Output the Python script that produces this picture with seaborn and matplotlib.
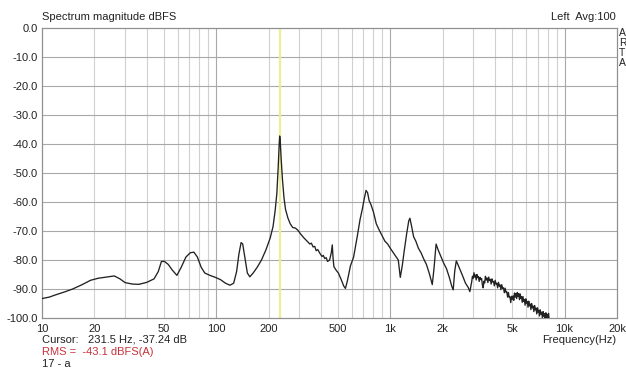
import matplotlib
matplotlib.use("Agg")
import matplotlib.pyplot as plt
import matplotlib.ticker as mticker
import pandas as pd
import seaborn as sns

# Averaged spectrum as (frequency Hz, magnitude dBFS) pairs, split by band
bass_band = [
    (10, -93.3), (11, -92.8), (12, -92.0), (13.5, -91.0), (15, -90.0),
    (17, -88.5), (19, -87.0), (21, -86.3), (24, -85.8), (26, -85.5),
    (28, -86.5), (30, -87.8), (33, -88.3), (36, -88.4), (40, -87.7),
    (44, -86.5), (46.5, -84.0), (48.5, -80.5), (50.5, -80.5), (53, -81.5),
    (56, -83.5), (59.5, -85.3), (63, -82.5), (67, -79.0), (71, -77.5),
    (74.5, -77.3), (78, -79.0), (82, -82.5), (86, -84.5), (92, -85.3),
    (99, -86.0), (106, -86.8), (113, -88.0), (120, -88.7), (126, -88.0),
    (131, -84.0), (135, -78.0), (139, -74.0), (142, -74.5), (146, -79.0),
    (151, -84.5), (156, -85.8), (163, -84.5), (172, -82.5), (182, -80.0),
    (193, -76.5), (204, -72.5), (212, -68.5), (218, -63.0), (223, -57.0),
    (227, -48.0), (230, -40.0), (231.5, -37.24), (233, -38.5), (236, -45.0),
    (240, -52.0), (245, -58.5), (250, -62.5), (258, -65.5), (266, -67.5),
    (275, -68.8), (285, -69.0), (295, -69.8),
]
mid_band = [
    (305, -71.0), (318, -72.3), (330, -73.3), (345, -74.5), (352, -74.2),
    (360, -75.5), (368, -75.3), (375, -76.8), (383, -76.4), (392, -77.5),
    (405, -78.8), (412, -78.4), (420, -79.5), (428, -79.2), (436, -80.5),
    (448, -80.0), (458, -77.5), (464, -74.8), (469, -79.5), (474, -82.3),
    (488, -83.5), (503, -84.5), (520, -86.5), (540, -89.0), (552, -89.8),
    (565, -87.5), (590, -82.0), (615, -79.0), (645, -72.0), (670, -66.0),
    (690, -62.5), (710, -58.5), (725, -56.0), (740, -56.8), (755, -59.5),
    (775, -61.0), (800, -63.5), (830, -67.5), (860, -69.5), (895, -71.5),
    (930, -73.5), (965, -74.5), (1000, -76.0), (1040, -77.5), (1080, -79.0),
    (1110, -80.0), (1140, -86.0), (1170, -82.0), (1200, -77.0), (1240, -71.0),
    (1275, -66.5), (1295, -65.6), (1320, -68.0), (1360, -72.0), (1400, -73.5),
    (1450, -76.0), (1500, -77.5), (1550, -79.5), (1610, -81.5), (1680, -85.0),
    (1740, -88.5), (1780, -83.0), (1830, -74.5), (1880, -76.5), (1940, -78.5),
    (2020, -81.0), (2100, -83.0), (2180, -86.0), (2250, -89.0), (2295, -90.3),
    (2340, -84.0), (2390, -80.3), (2440, -81.5), (2520, -83.5), (2600, -85.5),
    (2700, -88.0), (2800, -89.5), (2860, -90.9),
]
treble_band = [
    (2930, -87.5), (2960, -85.6), (2990, -86.3), (3020, -84.4), (3050, -85.9),
    (3080, -85.2), (3110, -86.9), (3140, -85.0), (3170, -86.1), (3200, -85.7),
    (3235, -87.4), (3270, -86.0), (3305, -86.8), (3340, -86.4), (3375, -88.6),
    (3410, -89.6), (3445, -87.3), (3480, -87.9), (3515, -85.6), (3550, -86.9),
    (3590, -86.2), (3630, -87.8), (3670, -85.9), (3710, -87.1), (3750, -86.7),
    (3790, -88.3), (3830, -86.5), (3870, -87.6), (3910, -87.4), (3950, -88.9),
    (3995, -87.0), (4040, -88.3), (4085, -88.0), (4130, -89.6), (4175, -87.7),
    (4220, -89.0), (4265, -88.6), (4310, -90.2), (4360, -88.5), (4410, -89.8),
    (4460, -89.6), (4510, -91.3), (4560, -89.7), (4610, -91.1), (4660, -91.0),
    (4710, -92.8), (4760, -91.2), (4810, -92.9), (4860, -92.7), (4910, -94.7),
    (4960, -92.5), (5010, -93.6), (5060, -92.4), (5110, -93.9), (5160, -91.4),
    (5210, -92.8), (5260, -91.5), (5310, -93.3), (5360, -91.2), (5410, -92.6),
    (5460, -91.6), (5510, -93.7), (5560, -91.7), (5610, -93.2), (5660, -92.6),
    (5715, -94.6), (5770, -92.6), (5825, -94.3), (5880, -93.6), (5935, -95.6),
    (5990, -93.4), (6050, -94.9), (6110, -94.3), (6170, -96.3), (6230, -94.2),
    (6290, -95.8), (6350, -95.2), (6410, -97.1), (6470, -95.0), (6535, -96.5),
    (6600, -95.9), (6665, -97.8), (6730, -95.7), (6795, -97.2), (6860, -96.6),
    (6925, -98.6), (6990, -96.5), (7055, -98.0), (7120, -97.3), (7185, -99.3),
    (7250, -97.2), (7320, -98.7), (7390, -98.0), (7460, -99.9), (7530, -97.8),
    (7600, -99.4), (7670, -98.5), (7740, -100.4), (7810, -98.2), (7880, -99.8),
    (7950, -98.8), (8020, -100.6), (8090, -98.4), (8160, -100.6),
]

x_ticks = [10, 20, 50, 100, 200, 500, 1000, 2000, 5000, 10000, 20000]
x_tick_labels = ["10", "20", "50", "100", "200", "500", "1k", "2k", "5k",
                 "10k", "20k"]
y_ticks = [0, -10, -20, -30, -40, -50, -60, -70, -80, -90, -100]
cursor_hz = 231.5
cursor_db = -37.24
rms_dbfs = -43.1

points = bass_band + mid_band + treble_band
spectrum = pd.DataFrame(points, columns=["Frequency", "Level"])

sns.set_style("white")
plt.rcParams["font.family"] = ["Liberation Sans", "DejaVu Sans"]

fig = plt.figure(figsize=(6.26, 3.72), dpi=100)
ax = fig.add_axes([0.0671, 0.1452, 0.9185, 0.7795])

ax.set_xscale("log")
ax.set_xlim(10, 20000)
ax.set_ylim(-100, 0)

# grid: light verticals on every 1..9 step, darker on decades, dB every 10
for dec in [10, 100, 1000, 10000]:
    for m in range(1, 10):
        f = dec * m
        if f <= 10 or f >= 20000:
            continue
        col = "#a8a8a8" if m == 1 else "#d0d0d0"
        ax.axvline(f, color=col, lw=0.8, zorder=1)
for y in y_ticks[1:-1]:
    ax.axhline(y, color="#a8a8a8", lw=0.8, zorder=1)

ax.axvline(cursor_hz, color="#eeee99", lw=1.6, zorder=2)

sns.lineplot(data=spectrum, x="Frequency", y="Level", ax=ax, color="#222222",
             lw=0.95, zorder=3, estimator=None, sort=False)

ax.xaxis.set_major_locator(mticker.FixedLocator(x_ticks))
ax.xaxis.set_major_formatter(mticker.FixedFormatter(x_tick_labels))
ax.xaxis.set_minor_locator(mticker.NullLocator())
ax.set_yticks(y_ticks)
ax.set_yticklabels([f"{v:.1f}" for v in y_ticks])
ax.tick_params(axis="both", length=0, labelsize=8, colors="#222222")
ax.tick_params(axis="x", pad=4)
ax.tick_params(axis="y", pad=3)
ax.set_xlabel("")
ax.set_ylabel("")
for sp in ax.spines.values():
    sp.set_color("#909090")
    sp.set_linewidth(0.9)

fs = 8
fig.text(42 / 626, 1 - 20 / 372, "Spectrum magnitude dBFS", fontsize=fs,
         color="#222222", va="baseline")
fig.text(616 / 626, 1 - 20 / 372, "Left  Avg:100", fontsize=fs,
         color="#222222", ha="right", va="baseline")
for i, ch in enumerate("ARTA"):
    fig.text(619 / 626, 1 - (36 + 10 * i) / 372, ch, fontsize=7.5,
             color="#222222", va="baseline")
fig.text(42 / 626, 1 - 343 / 372,
         f"Cursor:   {cursor_hz} Hz, {cursor_db:.2f} dB", fontsize=fs,
         color="#222222", va="baseline")
fig.text(42 / 626, 1 - 355 / 372, f"RMS =  {rms_dbfs} dBFS(A)", fontsize=fs,
         color="#c8323c", va="baseline")
fig.text(42 / 626, 1 - 367 / 372, "17 - a", fontsize=fs, color="#222222",
         va="baseline")
fig.text(616 / 626, 1 - 343 / 372, "Frequency(Hz)", fontsize=fs,
         color="#222222", ha="right", va="baseline")

fig.savefig("out.png", dpi=100, facecolor="white")
